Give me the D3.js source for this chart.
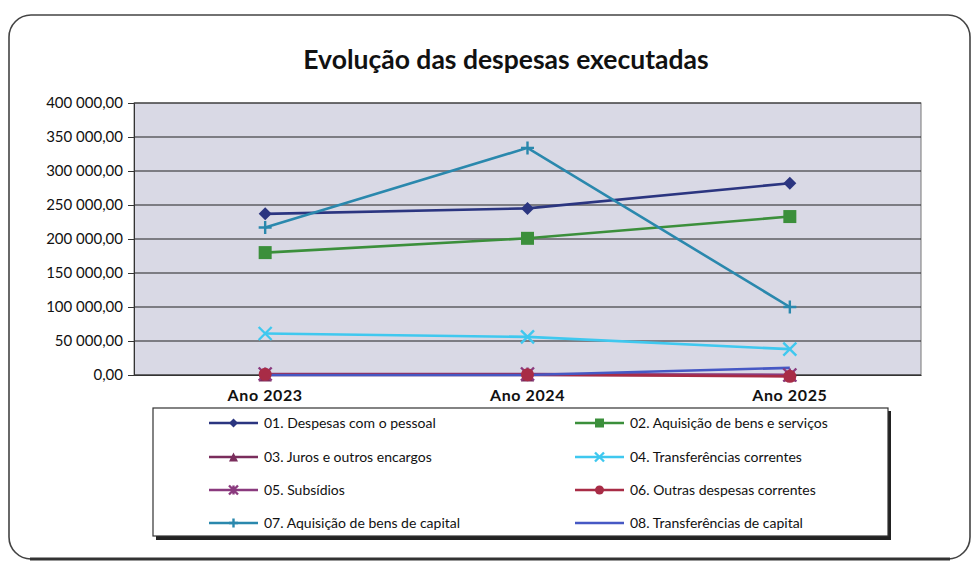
<!DOCTYPE html>
<html>
<head>
<meta charset="utf-8">
<script src="https://cdn.jsdelivr.net/npm/d3@7"></script>
<style>
  body { margin: 0; background: #fff; }
  svg { display: block; font-family: Lato, "Open Sans", sans-serif; }
</style>
</head>
<body>
<div id="chart"></div>
<script>
const width = 973;
const height = 563;

const years = ["Ano 2023", "Ano 2024", "Ano 2025"];
const yTicks = [0, 50000, 100000, 150000, 200000, 250000, 300000, 350000, 400000];

const seriesNames = [
    "01. Despesas com o pessoal",
    "02. Aquisição de bens e serviços",
    "03. Juros e outros encargos",
    "04. Transferências correntes",
    "05. Subsídios",
    "06. Outras despesas correntes",
    "07. Aquisição de bens de capital",
    "08. Transferências de capital"
];
const pessoal = [237000, 245000, 282000];
const bensServicos = [180000, 201000, 233000];
const juros = [0, 0, 0];
const transfCorrentes = [61000, 56000, 38000];
const subsidios = [1500, 1500, 0];
const outrasDespesas = [1000, 500, -2000];
const bensCapital = [217000, 334000, 100000];
const transfCapital = [0, 0, 10500];
const seriesValues = [pessoal, bensServicos, juros, transfCorrentes, subsidios, outrasDespesas, bensCapital, transfCapital];

const colors = ["#2b3580", "#3b8f3b", "#7a2d5c", "#3fc8ef", "#8a3a7e", "#a82c46", "#2a88ad", "#4658c4"];
const markers = ["diamond", "square", "triangle", "x", "star", "circle", "plus", "none"];

const svg = d3.select("#chart")
    .append("svg")
    .attr("width", width)
    .attr("height", height);

// outer frame
svg.append("rect")
    .attr("x", 9).attr("y", 15)
    .attr("width", 961).attr("height", 544)
    .attr("rx", 22)
    .attr("fill", "#fff")
    .attr("stroke", "#444")
    .attr("stroke-width", 1.6);
svg.append("line")
    .attr("x1", 30).attr("x2", 950)
    .attr("y1", 559).attr("y2", 559)
    .attr("stroke", "#333").attr("stroke-width", 3);

svg.append("text")
    .attr("x", 506).attr("y", 69)
    .attr("text-anchor", "middle")
    .attr("font-size", 26.5)
    .attr("font-weight", "bold")
    .attr("fill", "#111")
    .text("Evolução das despesas executadas");

const plot = { left: 134, right: 921, top: 103, bottom: 375 };

const x = d3.scaleBand()
    .domain(years)
    .range([plot.left, plot.right]);

const y = d3.scaleLinear()
    .domain([0, 400000])
    .range([plot.bottom, plot.top]);

const fmt = d3.formatLocale({ decimal: ",", thousands: " ", grouping: [3], currency: ["", ""] }).format(",.2f");

svg.append("rect")
    .attr("x", plot.left).attr("y", plot.top)
    .attr("width", plot.right - plot.left).attr("height", plot.bottom - plot.top)
    .attr("fill", "#d9d9e5")
    .attr("stroke", "#777");

// gridlines
svg.append("g")
    .selectAll("line")
    .data(yTicks)
    .join("line")
    .attr("x1", plot.left).attr("x2", plot.right)
    .attr("y1", d => y(d)).attr("y2", d => y(d))
    .attr("stroke", "#222")
    .attr("stroke-width", 1.1);

const yAxis = svg.append("g")
    .attr("transform", `translate(${plot.left},0)`)
    .call(d3.axisLeft(y).tickValues(yTicks).tickFormat(fmt).tickSize(6).tickPadding(5));
yAxis.select(".domain").attr("stroke", "#333");
yAxis.selectAll(".tick line").attr("stroke", "#333");
yAxis.selectAll("text")
    .attr("font-size", 15)
    .attr("font-family", "Lato, sans-serif")
    .attr("fill", "#111");

const xAxis = svg.append("g")
    .attr("transform", `translate(0,${plot.bottom})`)
    .call(d3.axisBottom(x).tickSize(0).tickPadding(15));
xAxis.select(".domain").attr("stroke", "#333");
xAxis.selectAll("text")
    .attr("font-size", 16)
    .attr("font-weight", "bold")
    .attr("letter-spacing", 0.6)
    .attr("font-family", "Lato, sans-serif")
    .attr("fill", "#111");

function drawMarker(g, type, color, size) {
    const s = size / 2;
    if (type === "diamond") {
        g.append("path").attr("d", `M0,${-s}L${s},0L0,${s}L${-s},0Z`).attr("fill", color);
    } else if (type === "square") {
        g.append("rect").attr("x", -s).attr("y", -s).attr("width", size).attr("height", size).attr("fill", color);
    } else if (type === "triangle") {
        g.append("path").attr("d", `M0,${-s}L${s},${s}L${-s},${s}Z`).attr("fill", color);
    } else if (type === "circle") {
        g.append("circle").attr("r", s).attr("fill", color);
    } else if (type === "x") {
        g.append("path").attr("d", `M${-s},${-s}L${s},${s}M${-s},${s}L${s},${-s}`)
            .attr("stroke", color).attr("stroke-width", 2.4);
    } else if (type === "plus") {
        g.append("path").attr("d", `M${-s},0L${s},0M0,${-s}L0,${s}`)
            .attr("stroke", color).attr("stroke-width", 2.4);
    } else if (type === "star") {
        g.append("path").attr("d", `M${-s},${-s}L${s},${s}M${-s},${s}L${s},${-s}M0,${-s}L0,${s}`)
            .attr("stroke", color).attr("stroke-width", 2.4);
    }
}

const line = d3.line()
    .x((d, i) => x(years[i]) + x.bandwidth() / 2)
    .y(d => y(d));

seriesValues.forEach((vals, k) => {
    svg.append("path")
        .datum(vals)
        .attr("d", line)
        .attr("fill", "none")
        .attr("stroke", colors[k])
        .attr("stroke-width", 2.6);
});
seriesValues.forEach((vals, k) => {
    vals.forEach((v, i) => {
        const g = svg.append("g")
            .attr("transform", `translate(${x(years[i]) + x.bandwidth() / 2},${y(v)})`);
        drawMarker(g, markers[k], colors[k], 13);
    });
});

// legend
const legend = svg.append("g");
legend.append("rect")
    .attr("x", 156).attr("y", 411)
    .attr("width", 735).attr("height", 129)
    .attr("fill", "#222");
legend.append("rect")
    .attr("x", 153).attr("y", 408)
    .attr("width", 735).attr("height", 128)
    .attr("fill", "#fff")
    .attr("stroke", "#333")
    .attr("stroke-width", 1.2);

const rowY = [423, 457, 490, 523];
const colX = [209, 575];
seriesNames.forEach((name, k) => {
    const lx = colX[k % 2];
    const ly = rowY[Math.floor(k / 2)];
    legend.append("line")
        .attr("x1", lx).attr("x2", lx + 49)
        .attr("y1", ly).attr("y2", ly)
        .attr("stroke", colors[k])
        .attr("stroke-width", 2.6);
    const g = legend.append("g").attr("transform", `translate(${lx + 24.5},${ly})`);
    drawMarker(g, markers[k], colors[k], 9);
    legend.append("text")
        .attr("x", lx + 55).attr("y", ly + 5)
        .attr("font-size", 14)
        .attr("fill", "#111")
        .text(name);
});
</script>
</body>
</html>
